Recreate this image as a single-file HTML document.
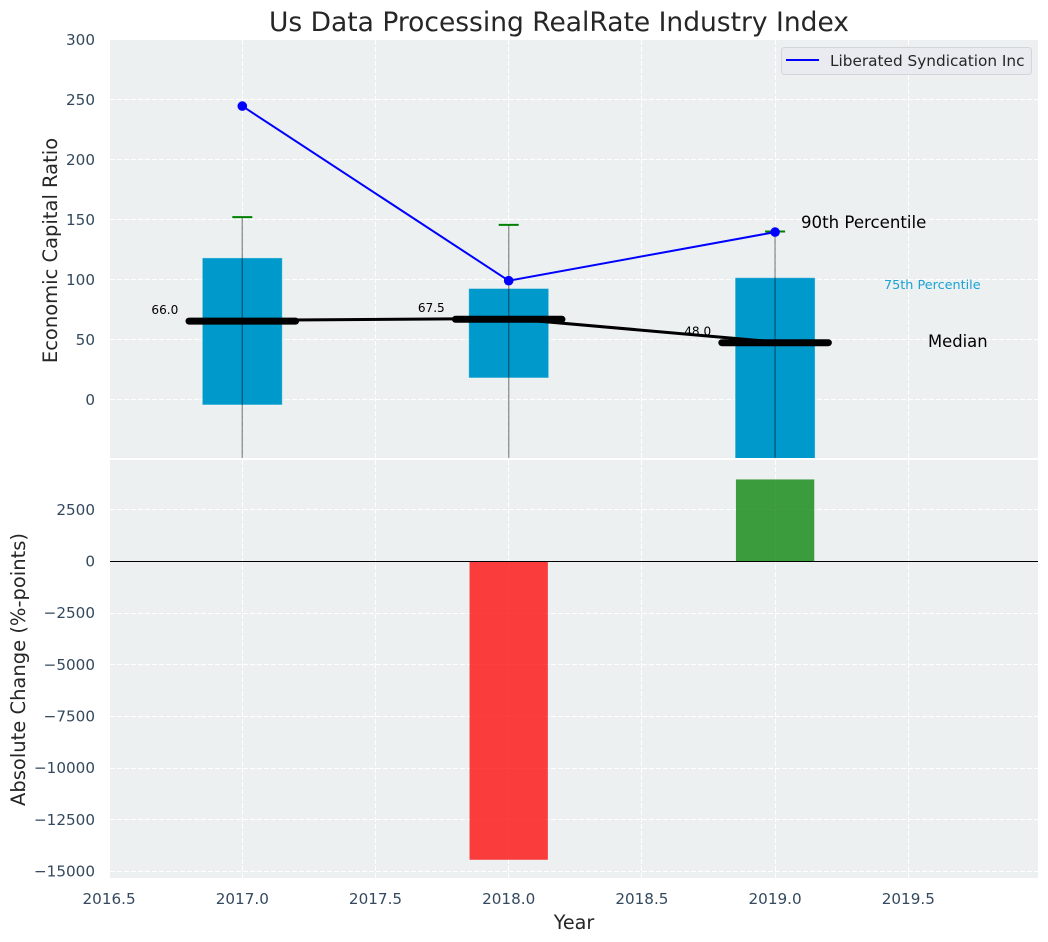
<!DOCTYPE html>
<html lang="en">
<head>
<meta charset="utf-8">
<title>Us Data Processing RealRate Industry Index</title>
<style>
html,body{margin:0;padding:0;background:#fff;}
body{width:1048px;height:942px;overflow:hidden;}
svg{display:block;font-family:"DejaVu Sans","Liberation Sans",sans-serif;}
</style>
</head>
<body>
<svg id="chart" xmlns="http://www.w3.org/2000/svg" width="1048" height="942" viewBox="0 0 1048 942">
  <defs>
    <clipPath id="top-clip"><rect x="110" y="40" width="928" height="418"></rect></clipPath>
    <clipPath id="bottom-clip"><rect x="110" y="460" width="928" height="418"></rect></clipPath>
  </defs>
  <text x="559" y="31" text-anchor="middle" font-size="26.5" fill="#262626">Us Data Processing RealRate Industry Index</text>
  <rect x="110" y="40" width="928" height="418" fill="#ecf0f1"></rect>
  <rect x="110" y="460" width="928" height="418" fill="#ecf0f1"></rect>
  <g id="grid"></g>
  <g id="top-marks" clip-path="url(#top-clip)"></g>
  <g id="bottom-marks" clip-path="url(#bottom-clip)"></g>
  <g id="tick-labels"></g>
  <text transform="translate(57,250.5) rotate(-90)" text-anchor="middle" font-size="19.5" fill="#262626">Economic Capital Ratio</text>
  <text transform="translate(25,669.5) rotate(-90)" text-anchor="middle" font-size="19.5" fill="#262626">Absolute Change (%-points)</text>
  <text x="574" y="929" text-anchor="middle" font-size="19.2" fill="#262626">Year</text>
  <text x="801" y="228" font-size="16.6" fill="#000">90th Percentile</text>
  <text x="884" y="289" font-size="12.8" fill="#1aa3d4">75th Percentile</text>
  <text x="928" y="347" font-size="16.4" fill="#000">Median</text>
  <g>
    <rect x="781.5" y="47.5" width="250" height="27" rx="3" fill="#e9ebf0" stroke="#d3d5d9" stroke-width="1"></rect>
    <line x1="786" y1="60" x2="819" y2="60" stroke="#0000ff" stroke-width="2"></line>
    <text x="830" y="66" font-size="15.3" fill="#262626">Liberated Syndication Inc</text>
  </g>
</svg>
<script>
const years = [2017, 2018, 2019];
const p90 = [152, 145.5, 140];
const p75 = [118, 92.5, 101.5];
const medians = [66.0, 67.5, 48.0];
const p25 = [-4.5, 18, -60];
const p10 = [-90, -70, -110];
const companyValues = [244.5, 99, 139.5];
const absoluteChange = [null, -14430, 3970];
const xTicks = [2016.5, 2017, 2017.5, 2018, 2018.5, 2019, 2019.5];
const topYTicks = [0, 50, 100, 150, 200, 250, 300];
const bottomYTicks = [-15000, -12500, -10000, -7500, -5000, -2500, 0, 2500];

const NS = 'http://www.w3.org/2000/svg';
const pxPerYear = 266.4;
const xScale = function (v) { return 242.3 + (v - 2017) * pxPerYear; };
const yTop = function (v) { return 399.5 - v * 1.2; };
const yBottom = function (v) { return 561.5 - v * 0.02067; };
const snap = function (p) { return Math.floor(p) + 0.5; };
const fmtTick = function (v) { return (v < 0 ? '\u2212' : '') + Math.abs(v); };

function mk(parent, tag, attrs, text) {
  const el = document.createElementNS(NS, tag);
  for (const k in attrs) el.setAttribute(k, attrs[k]);
  if (text !== undefined) el.textContent = text;
  parent.appendChild(el);
  return el;
}

const grid = document.getElementById('grid');
const topMarks = document.getElementById('top-marks');
const bottomMarks = document.getElementById('bottom-marks');
const tickLabels = document.getElementById('tick-labels');
const gridStyle = { stroke: '#ffffff', 'stroke-width': 1, 'stroke-dasharray': '5 2', 'stroke-opacity': 1 };
const tickFont = 15.2;

xTicks.forEach(function (t) {
  const x = xScale(t);
  [[40, 458], [460, 878]].forEach(function (r) {
    const g = mk(grid, 'line', Object.assign({ x1: snap(x), x2: snap(x), y1: r[0], y2: r[1] }, gridStyle));
    
    
  });
  const lab = mk(tickLabels, 'text', { x: x, y: 904, 'text-anchor': 'middle', 'font-size': tickFont, fill: '#34495e' }, t.toFixed(1));
  
  
});
topYTicks.forEach(function (t) {
  const y = yTop(t);
  const g = mk(grid, 'line', Object.assign({ x1: 110, x2: 1038, y1: snap(y), y2: snap(y) }, gridStyle));
  
  
  const lab = mk(tickLabels, 'text', { x: 95, y: y + 5.5, 'text-anchor': 'end', 'font-size': tickFont, fill: '#34495e' }, fmtTick(t));
  
  
});
bottomYTicks.forEach(function (t) {
  const y = yBottom(t);
  const g = mk(grid, 'line', Object.assign({ x1: 110, x2: 1038, y1: snap(y), y2: snap(y) }, gridStyle));
  
  
  const lab = mk(tickLabels, 'text', { x: 95, y: y + 5, 'text-anchor': 'end', 'font-size': tickFont, fill: '#34495e' }, fmtTick(t));
  
  
});

/* percentile boxes */
years.forEach(function (yr, i) {
  const x = xScale(yr);
  const hw = 0.15 * pxPerYear;
  const box = mk(topMarks, 'rect', { x: x - hw, y: yTop(p75[i]), width: 2 * hw, height: yTop(p25[i]) - yTop(p75[i]), fill: '#0099cc', stroke: '#ffffff', 'stroke-opacity': 0.35, 'stroke-width': 1 });
  
  
});

/* median connector and value labels */
const medianPts = years.map(function (yr, i) { return xScale(yr) + ',' + yTop(medians[i]); }).join(' ');
years.forEach(function (yr, i) {
  const lab = mk(topMarks, 'text', { x: xScale(yr) - 0.24 * pxPerYear, y: yTop(medians[i]) - 6.5, 'text-anchor': 'end', 'font-size': 12.1, fill: '#000' }, medians[i].toFixed(1));
  
  
});
const medLine = mk(topMarks, 'polyline', { points: medianPts, fill: 'none', stroke: '#000', 'stroke-width': 3 });



years.forEach(function (yr, i) {
  const x = xScale(yr);
  const med = mk(topMarks, 'line', { x1: x - 0.2 * pxPerYear, x2: x + 0.2 * pxPerYear, y1: yTop(medians[i]) + 0.8, y2: yTop(medians[i]) + 0.8, stroke: '#000', 'stroke-width': 7, 'stroke-linecap': 'round' });
  
  
  const whisk = mk(topMarks, 'line', { x1: x, x2: x, y1: yTop(p90[i]), y2: yTop(p10[i]), stroke: '#000', 'stroke-opacity': 0.4, 'stroke-width': 1.4 });
  
  
  const cap = mk(topMarks, 'line', { x1: x - 10, x2: x + 10, y1: yTop(p90[i]), y2: yTop(p90[i]), stroke: '#008000', 'stroke-width': 2 });
  
  
});

/* company series */
const compLine = mk(topMarks, 'polyline', { points: years.map(function (yr, i) { return xScale(yr) + ',' + yTop(companyValues[i]); }).join(' '), fill: 'none', stroke: '#0000ff', 'stroke-width': 2 });


years.forEach(function (yr, i) {
  const pt = mk(topMarks, 'circle', { cx: xScale(yr), cy: yTop(companyValues[i]), r: 4.8, fill: '#0000ff' });
  
  
});

/* change bars */
years.forEach(function (yr, i) {
  const v = absoluteChange[i];
  if (v === null) return;
  const x = xScale(yr);
  const hw = 0.147 * pxPerYear;
  const top = Math.min(yBottom(v), yBottom(0));
  const h = Math.abs(yBottom(v) - yBottom(0));
  const bar = mk(bottomMarks, 'rect', { x: x - hw, y: top, width: 2 * hw, height: h, fill: v < 0 ? '#ff0000' : '#008000', 'fill-opacity': 0.75 });
  
  
});
const zero = mk(bottomMarks, 'line', { x1: 110, x2: 1038, y1: yBottom(0), y2: yBottom(0), stroke: '#000', 'stroke-width': 1 });


</script>
</body>
</html>
